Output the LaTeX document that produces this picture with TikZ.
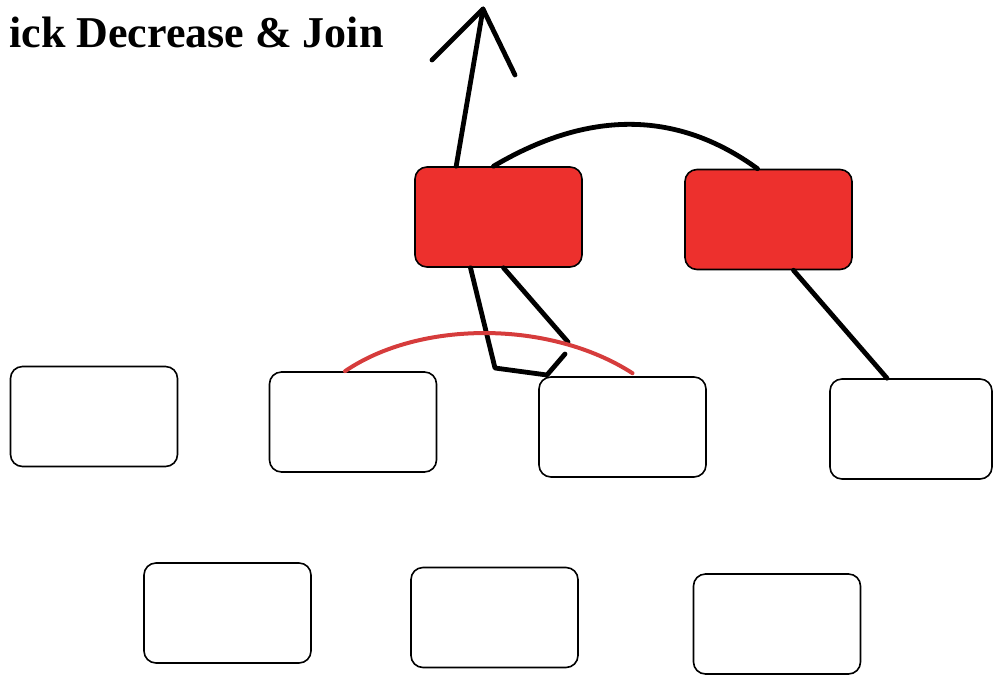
\documentclass[tikz,border=0pt]{standalone}
\usepackage{fontspec}
\setmainfont{Liberation Serif}
\usetikzlibrary{calc,positioning}
\definecolor{color_hot}{RGB}{237,48,45}
\definecolor{color_arc}{RGB}{214,60,60}
\begin{document}
\begin{tikzpicture}[x=0.5pt,y=-0.5pt,
	box/.style={draw=black,line width=0.8pt,rounded corners=6pt,minimum width=83.5pt,minimum height=50pt,inner sep=0pt},
	hot box/.style={box,fill=color_hot},
	stroke/.style={draw=black,line width=2.4pt,line cap=round,line join=round},
	red stroke/.style={draw=color_arc,line width=2pt,line cap=round}]
	\useasboundingbox (0,0) rectangle (993,677);
	\clip (0,0) rectangle (993,677);
	% TITULO
	\node[anchor=base east,inner sep=0pt,font=\bfseries\fontsize{22}{26}\selectfont] (title) at (384,47) {ick Decrease \& Join};
	% NODOS ROJOS
	\node[hot box] (rA) at (498.5,217) {};
	\node[hot box] (rB) at (768.5,219.5) {};
	% FILA 1
	\node[box] (w1) at (94,416.5) {};
	\node[box] (w2) at (353,422) {};
	\node[box] (w3) at (622.5,427) {};
	\node[box,minimum width=81pt] (w4) at (911,429) {};
	% FILA 2
	\node[box] (w5) at (227.5,613) {};
	\node[box] (w6) at (494.5,617.5) {};
	\node[box] (w7) at (777,624) {};
	% FLECHA
	\coordinate (tip) at (483,9);
	\coordinate (barbL) at (432,60);
	\coordinate (barbR) at (515,75);
	\draw[stroke] ($(rA.north west)+(42,0)$) -- (tip);
	\draw[stroke] (barbL) -- (tip) -- (barbR);
	% UNION
	\draw[stroke] ($(rA.north)+(-5,0)$) .. controls (580,115) and (670,105) .. ($(rB.north)+(-11,0)$);
	% DEBAJO DE rA
	\coordinate (bendA) at (495,368);
	\coordinate (bendB) at (547,375);
	\coordinate (endA) at (565,354);
	\coordinate (endB) at (568,342);
	\draw[stroke] ($(rA.south)+(-28,0)$) -- (bendA) -- (bendB) -- (endA);
	\draw[stroke] ($(rA.south)+(5,0)$) -- (endB);
	% DEBAJO DE rB
	\draw[stroke] ($(rB.south)+(25,0)$) -- ($(w4.north)+(-24,0)$);
	% ARCO ROJO
	\draw[red stroke] ($(w2.north)+(-8,0)$) .. controls (420,320) and (550,320) .. ($(w3.north)+(10,-3)$);
\end{tikzpicture}
\end{document}
